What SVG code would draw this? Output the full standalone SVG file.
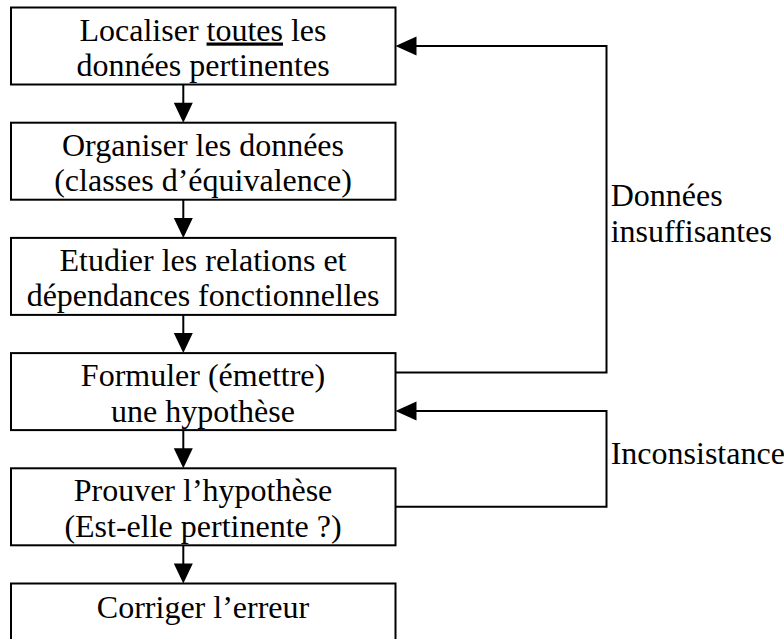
<svg xmlns="http://www.w3.org/2000/svg" width="784" height="639" viewBox="0 0 784 639">
<style>
.box{fill:#fff;stroke:#000;stroke-width:2}
.t{font-family:"Liberation Serif","Times New Roman",serif;font-size:32px;fill:#000}
.c{text-anchor:middle}
.ln{fill:none;stroke:#000;stroke-width:2}
.ah{fill:#000;stroke:none}
</style>
<defs>
<path id="down" class="ah" d="M-9.5,-20 L9.5,-20 L0,0 Z"/>
<path id="left" class="ah" d="M21,-9.5 L21,9.5 L0,0 Z"/>
</defs>
<rect width="784" height="639" fill="#fff"/>
<g id="connectors">
<line class="ln" x1="183.3" y1="84.5" x2="183.3" y2="104"/>
<use href="#down" x="183.3" y="122.7"/>
<line class="ln" x1="183.3" y1="199.7" x2="183.3" y2="219"/>
<use href="#down" x="183.3" y="237.9"/>
<line class="ln" x1="183.3" y1="314.9" x2="183.3" y2="334"/>
<use href="#down" x="183.3" y="353.1"/>
<line class="ln" x1="183.3" y1="430.1" x2="183.3" y2="449"/>
<use href="#down" x="183.3" y="468.3"/>
<line class="ln" x1="183.3" y1="545.3" x2="183.3" y2="565"/>
<use href="#down" x="183.3" y="583.5"/>
<polyline class="ln" points="395.5,372.5 606.5,372.5 606.5,46 414,46"/>
<use href="#left" x="395.5" y="46"/>
<polyline class="ln" points="395.5,506.7 606.5,506.7 606.5,411 414,411"/>
<use href="#left" x="395.5" y="411"/>
<text class="t" x="610.7" y="205.5">Données</text>
<text class="t" x="610.7" y="242">insuffisantes</text>
<text class="t" x="610.7" y="464">Inconsistance</text>
</g>
<g id="n1">
<rect class="box" x="11" y="7.5" width="384.5" height="77"/>
<text class="t c" x="203" y="40.5">Localiser <tspan text-decoration="underline">toutes</tspan> les</text>
<text class="t c" x="203" y="76">données pertinentes</text>
</g>
<g id="n2">
<rect class="box" x="11" y="122.7" width="384.5" height="77"/>
<text class="t c" x="203" y="155.7">Organiser les données</text>
<text class="t c" x="203" y="191.2">(classes d’équivalence)</text>
</g>
<g id="n3">
<rect class="box" x="11" y="237.9" width="384.5" height="77"/>
<text class="t c" x="203" y="270.9">Etudier les relations et</text>
<text class="t c" x="203" y="306.4">dépendances fonctionnelles</text>
</g>
<g id="n4">
<rect class="box" x="11" y="353.1" width="384.5" height="77"/>
<text class="t c" x="203" y="386.1">Formuler (émettre)</text>
<text class="t c" x="203" y="421.6">une hypothèse</text>
</g>
<g id="n5">
<rect class="box" x="11" y="468.3" width="384.5" height="77"/>
<text class="t c" x="203" y="501.3">Prouver l’hypothèse</text>
<text class="t c" x="203" y="536.8">(Est-elle pertinente ?)</text>
</g>
<g id="n6">
<rect class="box" x="11" y="583.5" width="384.5" height="77"/>
<text class="t c" x="203" y="617.5">Corriger l’erreur</text>
</g>
</svg>
